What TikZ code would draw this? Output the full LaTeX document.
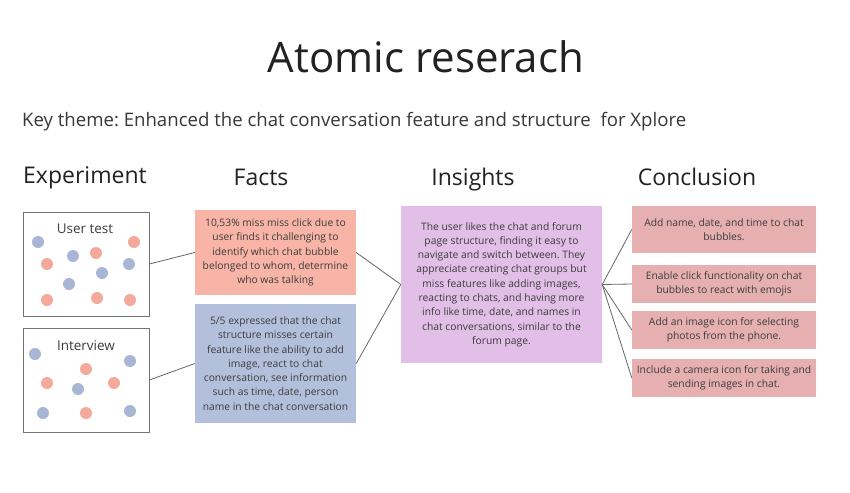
\documentclass[tikz,border=0pt]{standalone}
\usepackage{fontspec}
\setmainfont{Open Sans}
\frenchspacing
\definecolor{factred}{HTML}{F8B4A6}
\definecolor{factblue}{HTML}{B3C0DC}
\definecolor{insight}{HTML}{E1BFE6}
\definecolor{concl}{HTML}{E6B0B1}
\definecolor{dotred}{HTML}{F5A99B}
\definecolor{dotblue}{HTML}{A9B5D5}
\definecolor{boxtext}{HTML}{3C3C3C}
\definecolor{heading}{HTML}{222222}
\begin{document}
\begin{tikzpicture}[x=1pt,y=-1pt,
  heading/.style={text=heading,font=\fontsize{23}{27}\selectfont,inner sep=0pt,anchor=base},
  expbox/.style={draw=black!55,line width=0.8pt,fill=white,inner sep=0pt},
  explabel/.style={text=boxtext,font=\fontsize{13.5}{16}\selectfont,inner sep=0pt},
  card/.style={inner sep=0pt,align=center,text=boxtext,font=\fontsize{10.3}{14.3}\selectfont},
  reddot/.style={circle,fill=dotred,minimum size=12pt,inner sep=0pt},
  bluedot/.style={circle,fill=dotblue,minimum size=12pt,inner sep=0pt},
  link/.style={draw=black!60,line width=0.8pt}]
\path[use as bounding box,fill=white] (0,0) rectangle (850,492);

\node[text=heading,font=\fontsize{42}{48}\selectfont,inner sep=0pt] (title) at (426,57) {Atomic reserach};
\node[text=heading!90,font=\fontsize{18.6}{22}\selectfont,inner sep=0pt,anchor=west] (theme) at (22,122) {Key theme: Enhanced the chat conversation feature and structure\ \ for Xplore};

\node[heading] (hexp) at (85,183) {Experiment};
\node[heading] (hfacts) at (261,185.5) {Facts};
\node[heading] (hins) at (473,185.5) {Insights};
\node[heading] (hcon) at (697,185.5) {Conclusion};

% Experiment boxes
\node[expbox,minimum width=126pt,minimum height=104pt] (ut) at (86,264) {};
\node[explabel] (utl) at (85,229) {User test};
\node[bluedot] (u1) at (38,242) {};
\node[reddot] (u2) at (134,242) {};
\node[bluedot] (u3) at (73,256) {};
\node[reddot] (u4) at (96,253) {};
\node[reddot] (u5) at (47,264) {};
\node[bluedot] (u6) at (129,264) {};
\node[bluedot] (u7) at (102,273) {};
\node[bluedot] (u8) at (69,284) {};
\node[reddot] (u9) at (47,300) {};
\node[reddot] (u10) at (97,298) {};
\node[reddot] (u11) at (130,300) {};

\node[expbox,minimum width=126pt,minimum height=104pt] (iv) at (86,380) {};
\node[explabel] (ivl) at (86,346) {Interview};
\node[bluedot] (i1) at (35,354) {};
\node[bluedot] (i2) at (130,361) {};
\node[reddot] (i3) at (86,369) {};
\node[reddot] (i4) at (47,383) {};
\node[reddot] (i5) at (114,383) {};
\node[bluedot] (i6) at (78,389) {};
\node[bluedot] (i7) at (43,413) {};
\node[reddot] (i8) at (86,413) {};
\node[bluedot] (i9) at (130,411) {};

% Facts
\node[card,fill=factred,minimum width=161pt,minimum height=85pt] (f1) at (275.5,252.5)
 {10,53\% miss miss click due to\\user finds it challenging to\\identify which chat bubble\\belonged to whom, determine\\who was talking};
\node[card,fill=factblue,minimum width=161pt,minimum height=119pt] (f2) at (275.5,363.5)
 {5/5 expressed that the chat\\structure misses certain\\feature like the ability to add\\image, react to chat\\conversation, see information\\such as time, date, person\\name in the chat conversation};

% Insights
\node[card,fill=insight,minimum width=201pt,minimum height=157pt] (ins) at (501.5,284.5)
 {The user likes the chat and forum\\page structure, finding it easy to\\navigate and switch between. They\\appreciate creating chat groups but\\miss features like adding images,\\reacting to chats, and having more\\info like time, date, and names in\\chat conversations, similar to the\\forum page.};

% Conclusions
\node[card,fill=concl,minimum width=184pt,minimum height=47pt] (c1) at (724,229.5)
 {Add name, date, and time to chat\\bubbles.};
\node[card,fill=concl,minimum width=184pt,minimum height=38pt] (c2) at (724,284)
 {Enable click functionality on chat\\bubbles to react with emojis};
\node[card,fill=concl,minimum width=184pt,minimum height=38pt] (c3) at (724,330)
 {Add an image icon for selecting\\photos from the phone.};
\node[card,fill=concl,minimum width=184pt,minimum height=38pt] (c4) at (724,378)
 {Include a camera icon for taking and\\sending images in chat.};

% Connectors
\draw[link] (ut.east) -- (f1.west);
\draw[link] (iv.east) -- (f2.west);
\draw[link] (f1.east) -- (ins.west);
\draw[link] (f2.east) -- (ins.west);
\draw[link] (ins.east) -- (c1.west);
\draw[link] (ins.east) -- (c2.west);
\draw[link] (ins.east) -- (c3.west);
\draw[link] (ins.east) -- (c4.west);
\end{tikzpicture}
\end{document}
